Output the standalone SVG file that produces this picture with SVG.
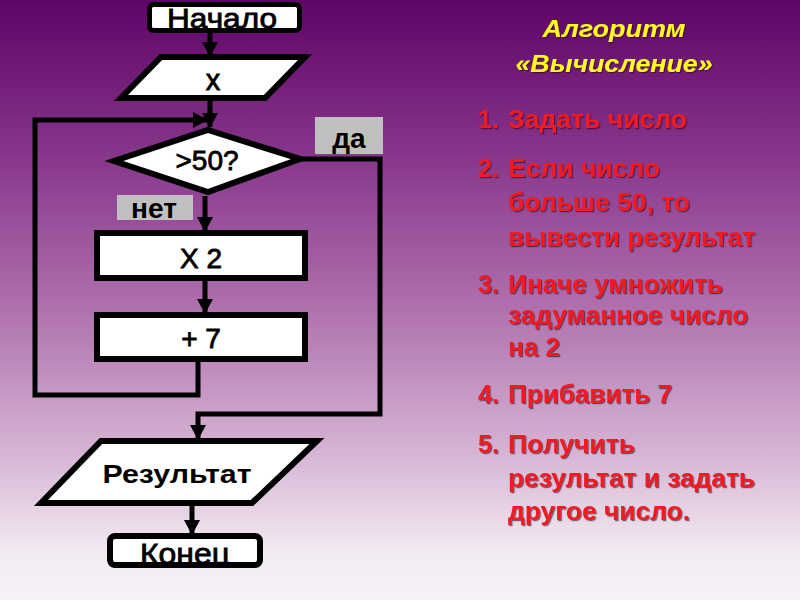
<svg xmlns="http://www.w3.org/2000/svg" width="800" height="600" viewBox="0 0 800 600">
<defs>
<linearGradient id="bg" x1="0" y1="0" x2="0" y2="1">
<stop offset="0" stop-color="#5e0466"/>
<stop offset="0.25" stop-color="#86348a"/>
<stop offset="0.5" stop-color="#ad6dab"/>
<stop offset="0.75" stop-color="#d5b3d3"/>
<stop offset="0.92" stop-color="#f2eaf2"/>
<stop offset="1" stop-color="#f7f3f7"/>
</linearGradient>
<marker id="ah" markerUnits="userSpaceOnUse" markerWidth="16" markerHeight="16" refX="14" refY="8" orient="auto">
<path d="M0,0 L15,8 L0,16 Z" fill="#000"/>
</marker>
<filter id="sh" x="-10%" y="-20%" width="120%" height="140%">
<feDropShadow dx="1.2" dy="1.2" stdDeviation="0.6" flood-color="#300020" flood-opacity="0.6"/>
</filter>
<clipPath id="clipEnd"><rect x="110" y="536" width="150" height="29"/></clipPath>
<clipPath id="clipStart"><rect x="149.5" y="4.5" width="150" height="26"/></clipPath>
</defs>
<style>
.box{fill:#fff;stroke:#000;stroke-width:6}
.lbl{fill:#c0c0c0}
.t{font-family:"Liberation Sans",Arial,sans-serif;fill:#000;text-anchor:middle}
.m{stroke:#000;stroke-width:0.8}
.b{font-weight:bold}
.conn{fill:none;stroke:#000;stroke-width:5;stroke-linejoin:miter}
.red{font-family:"Liberation Sans",Arial,sans-serif;font-weight:bold;font-size:25px;fill:#ec1c24}
.ttl{font-family:"Liberation Sans",Arial,sans-serif;font-weight:bold;font-style:italic;font-size:23px;fill:#ffff1a;text-anchor:middle}
</style>
<rect x="0" y="0" width="800" height="600" fill="url(#bg)"/>

<g id="connectors">
<line class="conn" x1="210" y1="33" x2="210" y2="56" marker-end="url(#ah)"/>
<line class="conn" x1="210" y1="101" x2="210" y2="127" marker-end="url(#ah)"/>
<line class="conn" x1="205" y1="196" x2="205" y2="231" marker-end="url(#ah)"/>
<line class="conn" x1="205" y1="281" x2="205" y2="313" marker-end="url(#ah)"/>
<polyline class="conn" points="198,362 198,395 35,395 35,120 207,120" marker-end="url(#ah)"/>
<polyline class="conn" points="300,159 380,159 380,414 198,414 198,439" marker-end="url(#ah)"/>
<line class="conn" x1="192" y1="506" x2="192" y2="534" marker-end="url(#ah)"/>
</g>

<g id="start">
<rect x="149.5" y="4.5" width="150" height="26" rx="4" fill="#fff"/>
<text class="t m" x="222" y="28" font-size="28" textLength="110" lengthAdjust="spacingAndGlyphs" clip-path="url(#clipStart)">Начало</text>
<rect x="149.5" y="4.5" width="150" height="26" rx="4" fill="none" stroke="#000" stroke-width="5"/>
</g>

<g id="input">
<polygon class="box" points="161,57 305,57 265,98 121,98"/>
<text class="t m" x="213" y="90" font-size="29">x</text>
</g>

<g id="decision">
<polygon class="box" points="208,130 300,159 208,192 114,161"/>
<text class="t m" x="207" y="170" font-size="28">&gt;50?</text>
</g>

<g id="label-yes">
<rect class="lbl" x="315" y="117" width="68" height="37"/>
<text class="t b" x="349" y="148" font-size="28">да</text>
</g>

<g id="label-no">
<rect class="lbl" x="117" y="195" width="76" height="25"/>
<text class="t b" x="154" y="218" font-size="28">нет</text>
</g>

<g id="mul">
<rect class="box" x="97" y="233" width="208" height="45"/>
<text class="t m" x="201" y="268" font-size="28">X 2</text>
</g>

<g id="add">
<rect class="box" x="97" y="315" width="208" height="44"/>
<text class="t m" x="201" y="348" font-size="28">+ 7</text>
</g>

<g id="output">
<polygon class="box" points="101,441 317,441 252,503 41,503"/>
<text class="t b" x="177" y="483" font-size="26" textLength="149" lengthAdjust="spacingAndGlyphs">Результат</text>
</g>

<g id="end">
<rect x="110" y="536" width="150" height="29" rx="5" fill="#fff"/>
<text class="t m" x="185" y="564" font-size="29" textLength="90" lengthAdjust="spacingAndGlyphs" clip-path="url(#clipEnd)">Конец</text>
<rect x="110" y="536" width="150" height="29" rx="5" fill="none" stroke="#000" stroke-width="6"/>
</g>

<g id="title" filter="url(#sh)">
<text class="ttl" x="614" y="37" textLength="143" lengthAdjust="spacingAndGlyphs">Алгоритм</text>
<text class="ttl" x="614" y="72" textLength="197" lengthAdjust="spacingAndGlyphs">«Вычисление»</text>
</g>

<g id="steps" filter="url(#sh)">
<text class="red" x="478" y="128">1.</text>
<text class="red" x="508" y="128" textLength="179" lengthAdjust="spacingAndGlyphs">Задать число</text>
<text class="red" x="478" y="177">2.</text>
<text class="red" x="508" y="177" textLength="152" lengthAdjust="spacingAndGlyphs">Если число</text>
<text class="red" x="508" y="211" textLength="182" lengthAdjust="spacingAndGlyphs">больше 50, то</text>
<text class="red" x="508" y="246" textLength="247" lengthAdjust="spacingAndGlyphs">вывести результат</text>
<text class="red" x="478" y="293">3.</text>
<text class="red" x="508" y="293" textLength="215" lengthAdjust="spacingAndGlyphs">Иначе умножить</text>
<text class="red" x="508" y="324" textLength="240" lengthAdjust="spacingAndGlyphs">задуманное число</text>
<text class="red" x="508" y="356" textLength="52" lengthAdjust="spacingAndGlyphs">на 2</text>
<text class="red" x="478" y="403">4.</text>
<text class="red" x="508" y="403" textLength="164" lengthAdjust="spacingAndGlyphs">Прибавить 7</text>
<text class="red" x="478" y="453">5.</text>
<text class="red" x="508" y="453" textLength="127" lengthAdjust="spacingAndGlyphs">Получить</text>
<text class="red" x="508" y="487" textLength="247" lengthAdjust="spacingAndGlyphs">результат и задать</text>
<text class="red" x="508" y="520" textLength="182" lengthAdjust="spacingAndGlyphs">другое число.</text>
</g>
</svg>
